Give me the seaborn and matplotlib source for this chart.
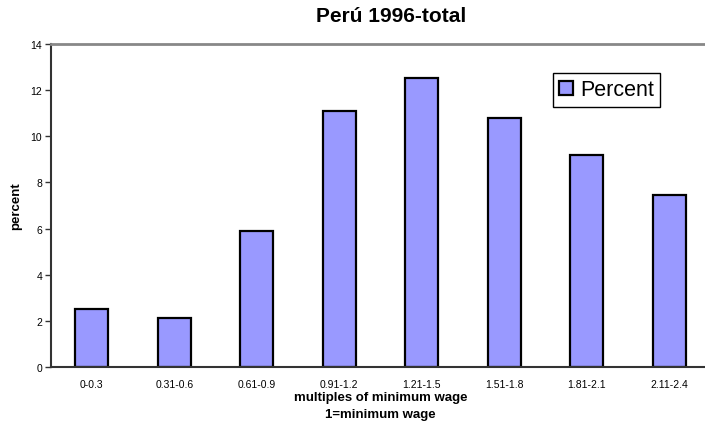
import matplotlib
matplotlib.use("Agg")
import matplotlib.pyplot as plt
from matplotlib.patches import Patch
from matplotlib.ticker import FixedLocator
import seaborn as sns
import pandas as pd

categories = ["0-0.3", "0.31-0.6", "0.61-0.9", "0.91-1.2",
              "1.21-1.5", "1.51-1.8", "1.81-2.1", "2.11-2.4"]
percent = [2.52, 2.11, 5.88, 11.08, 12.51, 10.81, 9.19, 7.46]
y_ticks = [0, 2, 4, 6, 8, 10, 12, 14]

bar_color = "#9999FF"

sns.set_style("white")
plt.rcParams["font.family"] = ["Liberation Sans", "DejaVu Sans"]
plt.rcParams["text.color"] = "black"
plt.rcParams["axes.labelcolor"] = "black"

df = pd.DataFrame({"range": categories, "percent": percent})

fig = plt.figure(figsize=(7.05, 4.27), dpi=100)
ax = fig.add_axes([50.5 / 705, 59 / 427, 660 / 705, 323 / 427])

sns.barplot(data=df, x="range", y="percent", order=categories,
            color=bar_color, saturation=1, width=0.4,
            edgecolor="black", linewidth=1.6, ax=ax)

ax.set_xlim(-0.5, len(categories) - 0.5)
ax.set_ylim(0, 14)
ax.set_yticks(y_ticks)
ax.set_yticklabels([str(t) for t in y_ticks], fontsize=7.5)
ax.set_xticks(range(len(categories)))
ax.set_xticklabels(categories, fontsize=7.5)
ax.xaxis.set_minor_locator(FixedLocator([i + 0.5 for i in range(-1, len(categories))]))
ax.tick_params(axis="x", which="major", length=0, pad=9, labelcolor="black")
ax.tick_params(axis="x", which="minor", length=4, width=1, color="#333333", direction="out")
ax.tick_params(axis="y", which="major", length=4, width=1, color="#333333",
               direction="out", pad=2, left=True, labelcolor="black")

for side in ["left", "bottom"]:
    ax.spines[side].set_color("#333333")
    ax.spines[side].set_linewidth(1.5)
ax.spines["top"].set_color("#888888")
ax.spines["top"].set_linewidth(2)
ax.spines["right"].set_visible(False)

ax.set_xlabel("multiples of minimum wage\n1=minimum wage", fontsize=9.5,
              fontweight="bold", linespacing=1.6, labelpad=1, color="black")
ax.set_ylabel("percent", fontsize=9.5, fontweight="bold", labelpad=6, color="black")

fig.text(391 / 705, 1 - 17 / 427, "Perú 1996-total", ha="center", va="center",
         fontsize=15, fontweight="bold", color="black")

handle = Patch(facecolor=bar_color, edgecolor="black", linewidth=1.6)
leg = ax.legend([handle], ["Percent"], loc="upper left",
                bbox_to_anchor=(553 / 705, 1 - 74 / 427),
                bbox_transform=fig.transFigure, fontsize=15.5,
                frameon=True, fancybox=False, shadow=False,
                handlelength=0.65, handleheight=0.65, handletextpad=0.3,
                borderpad=0.3, borderaxespad=0)
leg.get_frame().set_edgecolor("black")
leg.get_frame().set_linewidth(1)
leg.get_frame().set_alpha(1)
for text in leg.get_texts():
    text.set_color("black")

fig.savefig("out.png", dpi=100)
